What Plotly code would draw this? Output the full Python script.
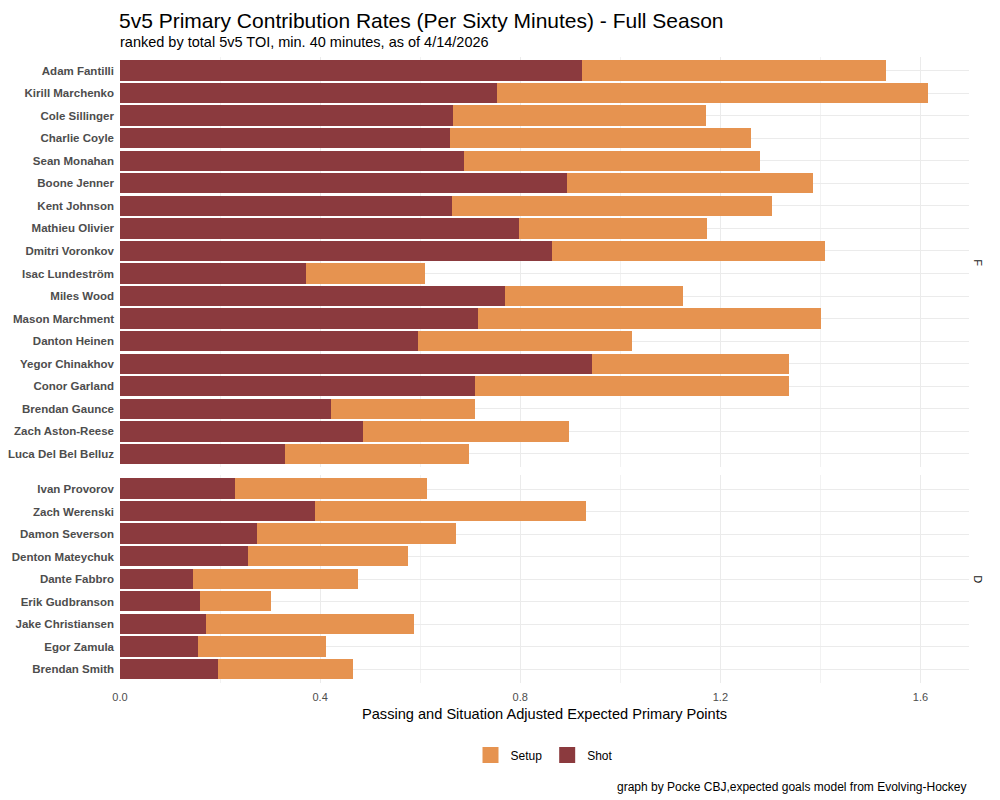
import plotly.graph_objects as go
from plotly.subplots import make_subplots

# forwards, ranked by 5v5 TOI
fwd_names = ["Adam Fantilli", "Kirill Marchenko", "Cole Sillinger", "Charlie Coyle",
             "Sean Monahan", "Boone Jenner", "Kent Johnson", "Mathieu Olivier",
             "Dmitri Voronkov", "Isac Lundeström", "Miles Wood", "Mason Marchment",
             "Danton Heinen", "Yegor Chinakhov", "Conor Garland", "Brendan Gaunce",
             "Zach Aston-Reese", "Luca Del Bel Belluz"]
fwd_shot = [0.924, 0.754, 0.666, 0.660, 0.688, 0.894, 0.664, 0.798, 0.864,
            0.372, 0.770, 0.716, 0.596, 0.944, 0.710, 0.422, 0.486, 0.330]
fwd_setup = [0.608, 0.862, 0.506, 0.602, 0.592, 0.492, 0.640, 0.376, 0.546,
             0.238, 0.356, 0.686, 0.428, 0.394, 0.628, 0.288, 0.412, 0.368]

# defense
def_names = ["Ivan Provorov", "Zach Werenski", "Damon Severson", "Denton Mateychuk",
             "Dante Fabbro", "Erik Gudbranson", "Jake Christiansen", "Egor Zamula",
             "Brendan Smith"]
def_shot = [0.230, 0.390, 0.274, 0.256, 0.146, 0.160, 0.172, 0.156, 0.196]
def_setup = [0.384, 0.542, 0.398, 0.320, 0.330, 0.142, 0.416, 0.256, 0.270]

SHOT_COL = "#8B3A3E"
SETUP_COL = "#E69350"
FONT = "Arial, Liberation Sans, sans-serif"

# page body has an 8px margin, so the figure is 8px smaller each way
W, H = 992, 792

fig = make_subplots(rows=2, cols=1, shared_xaxes=True,
                    row_heights=[18.2, 9.2], vertical_spacing=8 / 626)

for r, names, shot, setup in [(1, fwd_names, fwd_shot, fwd_setup),
                              (2, def_names, def_shot, def_setup)]:
    fig.add_trace(go.Bar(y=names, x=shot, orientation="h", marker_color=SHOT_COL,
                         marker_line_width=0, width=0.9, showlegend=False),
                  row=r, col=1)
    fig.add_trace(go.Bar(y=names, x=setup, orientation="h", marker_color=SETUP_COL,
                         marker_line_width=0, width=0.9, showlegend=False),
                  row=r, col=1)

# legend entries
for name, col in [("Setup", SETUP_COL), ("Shot", SHOT_COL)]:
    fig.add_trace(go.Scatter(x=[None], y=[None], mode="markers", name=name,
                             marker=dict(symbol="square", size=16, color=col)),
                  row=2, col=1)

fig.update_layout(
    barmode="stack",
    width=W, height=H,
    margin=dict(l=112, r=31, t=49, b=117, autoexpand=False),
    plot_bgcolor="white", paper_bgcolor="white",
    font=dict(family=FONT, color="#1A1A1A"),
    legend=dict(orientation="h", x=0.5, xanchor="center", y=-0.115, yanchor="middle",
                font=dict(size=12, color="black"), itemsizing="trace",
                traceorder="normal"),
    bargap=0,
)

for r, n in [(1, len(fwd_names)), (2, len(def_names))]:
    fig.update_yaxes(type="category", range=[n - 0.4, -0.6], showgrid=True,
                     gridcolor="#EBEBEB", gridwidth=1, ticks="", zeroline=False,
                     tickfont=dict(size=11.5, color="#4D4D4D", family=FONT, weight="bold"),
                     ticklabelstandoff=5, row=r, col=1)
    fig.update_xaxes(range=[0, 1.697], dtick=0.4, tick0=0, tickformat=".1f",
                     showgrid=True, gridcolor="#EBEBEB", gridwidth=1, zeroline=False,
                     minor=dict(dtick=0.2, showgrid=True, gridcolor="#F2F2F2", gridwidth=1),
                     tickfont=dict(size=11, color="#4D4D4D"), ticks="",
                     ticklabelstandoff=6, row=r, col=1)

fig.add_annotation(text="5v5 Primary Contribution Rates (Per Sixty Minutes) - Full Season",
                   xref="paper", yref="paper", x=-2 / 849, y=(683 - 8) / 626,
                   xanchor="left", yanchor="top", borderpad=0, showarrow=False,
                   font=dict(size=21, color="black"))
fig.add_annotation(text="ranked by total 5v5 TOI, min. 40 minutes, as of 4/14/2026",
                   xref="paper", yref="paper", x=-2 / 849, y=(683 - 42) / 626,
                   xanchor="left", yanchor="middle", showarrow=False,
                   font=dict(size=14.5, color="black"))
fig.add_annotation(text="Passing and Situation Adjusted Expected Primary Points",
                   xref="paper", yref="paper", x=0.5, y=(683 - 714) / 626,
                   xanchor="center", yanchor="middle", showarrow=False,
                   font=dict(size=14.6, color="black"))
fig.add_annotation(text="graph by Pocke CBJ,expected goals model from Evolving-Hockey",
                   xref="paper", yref="paper", x=1, y=(683 - 787) / 626,
                   xanchor="right", yanchor="middle", showarrow=False,
                   font=dict(size=12, color="black"))

# facet strip labels
top_dom = fig.layout.yaxis.domain
bot_dom = fig.layout.yaxis2.domain
for lab, dom in [("F", top_dom), ("D", bot_dom)]:
    fig.add_annotation(text=lab, xref="paper", yref="paper", x=1 + 9 / 849,
                       y=(dom[0] + dom[1]) / 2, xanchor="center", yanchor="middle",
                       textangle=90, showarrow=False,
                       font=dict(size=11, color="#1A1A1A"))

fig.write_html("out.html")
